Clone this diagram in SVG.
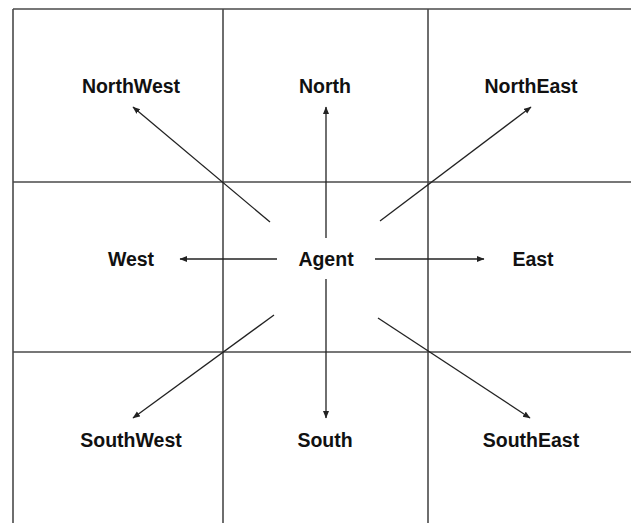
<svg xmlns="http://www.w3.org/2000/svg" width="631" height="523" viewBox="0 0 631 523">
<style>
.grid{stroke:#4a4a4a;stroke-width:1.6;fill:none}
.arr{stroke:#222;stroke-width:1.3;fill:none;marker-end:url(#ah)}
text{font-family:"Liberation Sans",Arial,sans-serif;font-weight:bold;font-size:19.5px;fill:#111;text-anchor:middle}
</style>
<defs>
<marker id="ah" markerUnits="userSpaceOnUse" markerWidth="10" markerHeight="8" refX="7" refY="3" orient="auto">
<path d="M0,0 L7.5,3 L0,6 Z" fill="#222"/>
</marker>
</defs>
<rect width="631" height="523" fill="#fff"/>
<g id="grid">
<line class="grid" x1="13" y1="9" x2="631" y2="9"/>
<line class="grid" x1="13" y1="182" x2="631" y2="182"/>
<line class="grid" x1="13" y1="352" x2="631" y2="352"/>
<line class="grid" x1="13" y1="9" x2="13" y2="523"/>
<line class="grid" x1="223" y1="9" x2="223" y2="523"/>
<line class="grid" x1="428" y1="9" x2="428" y2="523"/>
</g>
<g id="connectors">
<line class="arr" x1="270" y1="222" x2="133" y2="107"/>
<line class="arr" x1="326" y1="238" x2="326" y2="107"/>
<line class="arr" x1="380" y1="221" x2="531" y2="107"/>
<line class="arr" x1="277" y1="259" x2="180" y2="259"/>
<line class="arr" x1="375" y1="259" x2="484" y2="259"/>
<line class="arr" x1="274" y1="315" x2="133" y2="418"/>
<line class="arr" x1="326" y1="279" x2="326" y2="418"/>
<line class="arr" x1="378" y1="318" x2="530" y2="418"/>
</g>
<g id="agent"><text x="326" y="266">Agent</text></g>
<g id="northwest"><text x="131" y="93">NorthWest</text></g>
<g id="north"><text x="325" y="93">North</text></g>
<g id="northeast"><text x="531" y="93">NorthEast</text></g>
<g id="west"><text x="131" y="266">West</text></g>
<g id="east"><text x="533" y="266">East</text></g>
<g id="southwest"><text x="131" y="447">SouthWest</text></g>
<g id="south"><text x="325" y="447">South</text></g>
<g id="southeast"><text x="531" y="447">SouthEast</text></g>
</svg>
